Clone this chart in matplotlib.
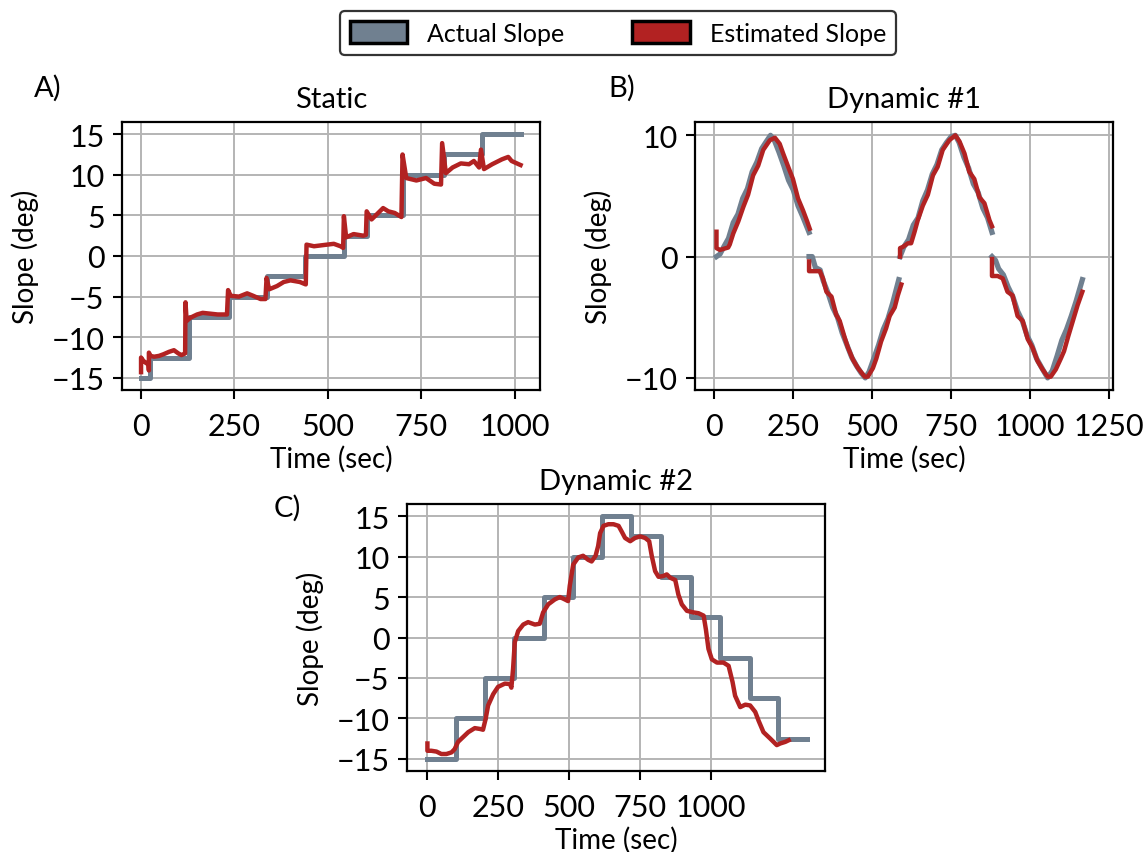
import numpy as np
import matplotlib
matplotlib.use("Agg")
import matplotlib.pyplot as plt
from matplotlib.patches import Patch

plt.rcParams['font.family'] = ['Lato', 'DejaVu Sans']

# colours
actual_color = '#708090'
est_color = '#B22222'
grid_color = '#b4b4b4'

# ---- A) Static ----
a_act_t = [0, 23, 128, 235, 338, 440, 542, 604, 701, 812, 913, 1017]
a_act_v = [-15, -12.5, -7.5, -5, -2.5, 0, 2.5, 5, 10, 12.5, 15, 15]
a_est_t = [0, 0, 6, 14, 20, 21, 21, 25, 35, 48, 60, 75, 88, 100, 108, 118, 119, 122,
           132, 150, 165, 185, 205, 230, 233, 240, 262, 284, 300, 320, 333, 336, 343,
           364, 382, 400, 425, 441, 443, 463, 489, 516, 534, 541, 543, 549, 569, 595,
           602, 604, 617, 626, 648, 662, 679, 697, 700, 710, 737, 763, 785, 803, 806,
           816, 834, 856, 878, 891, 905, 910, 918, 940, 966, 983, 992, 1011, 1016]
a_est_v = [-14.3, -12.5, -12.9, -13.2, -13.3, -14.1, -11.9, -12.3, -12.4, -12.3, -12.1,
           -11.8, -11.6, -12.0, -12.2, -12.0, -5.7, -8.0, -7.6, -7.2, -7.0, -7.1, -7.2,
           -7.2, -4.2, -4.9, -5.0, -4.6, -4.9, -5.3, -5.3, -2.7, -4.1, -3.7, -3.2, -3.0,
           -3.2, -3.5, 1.4, 1.2, 1.35, 1.5, 1.2, 1.0, 4.9, 2.3, 2.7, 2.5, 2.6, 5.5, 4.5,
           4.9, 5.9, 5.5, 5.3, 4.8, 12.5, 9.6, 9.3, 9.6, 8.9, 8.8, 13.9, 10.2, 10.9, 11.4,
           11.3, 11.7, 10.9, 13.1, 10.7, 11.3, 11.9, 12.2, 11.7, 11.3, 11.2]

# ---- B) Dynamic #1 (nan = gap between runs) ----
b_act_t = [7, 18, 30, 45, 60, 75, 90, 105, 120, 135, 150, 165, 178, 190, 205, 220, 235,
           250, 265, 280, 300, np.nan,
           300, 310, 320, 335, 345, 360, 375, 390, 405, 420, 435, 450, 465, 478, 490,
           505, 520, 535, 550, 565, 584, np.nan,
           588, 600, 615, 630, 645, 660, 675, 690, 705, 720, 735, 750, 763, 775, 790,
           805, 820, 835, 850, 865, 879, np.nan,
           879, 890, 900, 915, 930, 945, 960, 975, 990, 1005, 1020, 1035, 1055, 1070,
           1085, 1100, 1115, 1130, 1145, 1165]
b_act_v = [0, 0.2, 0.8, 1.5, 2.8, 3.5, 4.8, 5.6, 7.0, 7.8, 8.9, 9.5, 10.0, 9.6, 8.6, 7.5,
           6.3, 5.5, 4.2, 3.3, 2.0, np.nan,
           0, 0, -0.9, -1.1, -2.0, -3.0, -4.2, -5.0, -6.3, -7.3, -8.3, -9.0, -9.6, -10.0,
           -9.5, -8.4, -7.3, -6.0, -5.1, -3.8, -1.9, np.nan,
           0, 0.8, 1.4, 2.6, 3.2, 4.6, 5.5, 6.8, 7.6, 8.8, 9.4, 9.9, 10.0, 9.4, 8.2, 7.3,
           6.0, 5.3, 4.0, 3.2, 2.0, np.nan,
           0, -0.3, -1.0, -1.5, -2.5, -3.3, -4.5, -5.3, -6.5, -7.3, -8.4, -9.1, -10.0,
           -9.4, -8.2, -6.9, -6.0, -4.9, -3.7, -1.9]
b_est_t = [7, 7, 18, 44, 49, 60, 76, 92, 107, 123, 139, 155, 176, 192, 207, 218, 234,
           249, 265, 281, 294, 302, np.nan,
           300, 300, 318, 334, 344, 355, 371, 386, 397, 413, 423, 439, 455, 476, 486,
           502, 513, 528, 544, 555, 571, 581, 592, np.nan,
           588, 588, 597, 613, 623, 634, 644, 660, 676, 692, 707, 723, 744, 763, 776,
           792, 807, 823, 839, 855, 871, 879, np.nan,
           879, 879, 897, 913, 928, 944, 960, 976, 992, 1007, 1023, 1039, 1055, 1065,
           1081, 1097, 1107, 1120, 1135, 1150, 1165]
b_est_v = [2.05, 0.7, 0.55, 0.75, 1.0, 1.9, 2.9, 4.1, 5.1, 6.7, 7.5, 8.8, 9.6, 9.8, 9.3,
           8.5, 7.4, 6.4, 4.8, 3.8, 2.9, 2.3, np.nan,
           -0.4, -1.2, -1.2, -1.2, -1.8, -2.9, -3.3, -4.8, -5.3, -6.7, -7.5, -8.5, -9.2,
           -9.9, -9.9, -9.2, -8.4, -7.0, -5.9, -4.9, -4.2, -3.2, -2.3, np.nan,
           0.0, 0.7, 0.8, 1.1, 1.1, 2.05, 3.0, 4.2, 5.1, 6.7, 7.4, 8.8, 9.6, 10.0, 9.5,
           8.5, 7.0, 6.4, 4.9, 4.4, 3.0, 2.5, np.nan,
           -0.2, -1.6, -1.6, -1.8, -2.9, -3.2, -4.9, -5.3, -6.8, -7.5, -8.6, -9.3, -9.9,
           -9.9, -9.3, -8.4, -7.8, -6.6, -5.3, -4.0, -2.9]

# ---- C) Dynamic #2 ----
c_act_t = [0, 102, 202, 306, 411, 514, 617, 718, 824, 930, 1030, 1136, 1238, 1340]
c_act_v = [-15, -10, -5, 0, 5, 10, 15, 12.5, 7.5, 2.5, -2.5, -7.5, -12.5, -12.5]
c_est_t = [0, 0, 14, 32, 49, 67, 85, 96, 108, 126, 144, 167, 185, 196, 205, 214, 232,
           249, 273, 291, 296, 302, 308, 320, 338, 355, 379, 396, 408, 426, 449, 467,
           485, 496, 502, 514, 532, 549, 567, 579, 593, 602, 609, 621, 638, 656, 674,
           685, 697, 715, 732, 750, 768, 782, 791, 803, 815, 832, 844, 856, 874, 885,
           897, 915, 938, 956, 974, 982, 991, 1003, 1021, 1044, 1062, 1076, 1085, 1103,
           1121, 1138, 1156, 1168, 1185, 1209, 1232, 1244, 1262, 1274]
c_est_v = [-13.1, -14.0, -14.0, -14.1, -14.4, -14.4, -14.2, -13.8, -12.9, -12.3, -11.7,
           -11.2, -11.3, -11.4, -10.1, -8.4, -7.0, -6.1, -5.7, -5.75, -6.2, -3.9, -0.6,
           0.8, 1.6, 1.9, 1.6, 1.7, 3.1, 4.1, 4.7, 5.0, 4.7, 4.5, 6.4, 9.0, 9.9, 10.1,
           9.6, 9.4, 10.1, 11.3, 12.9, 13.8, 14.0, 14.0, 13.8, 13.1, 12.3, 11.9, 12.3,
           12.5, 12.3, 11.9, 10.1, 8.2, 7.5, 7.6, 7.8, 7.4, 7.1, 5.3, 4.1, 3.3, 3.1, 3.0,
           2.7, 1.0, -1.4, -2.7, -3.1, -3.1, -3.5, -5.5, -7.2, -8.6, -8.3, -8.4, -9.2,
           -10.3, -11.7, -12.5, -13.3, -13.1, -12.9, -12.7]

slope_ticks = [-15, -10, -5, 0, 5, 10, 15]

W, H = 1146, 853
fig = plt.figure(figsize=(W / 100, H / 100), dpi=100, facecolor='white')


def add_ax(left, top, right, bottom):
    return fig.add_axes([left / W, 1 - bottom / H, (right - left) / W, (bottom - top) / H])


def style(ax, title, xticks, yticks, xlim, ylim):
    ax.set_axisbelow(True)
    ax.grid(True, color=grid_color, linewidth=1.4)
    ax.set_xticks(xticks)
    ax.set_yticks(yticks)
    ax.set_xlim(*xlim)
    ax.set_ylim(*ylim)
    ax.set_title(title, fontsize=21, pad=11)
    ax.set_xlabel('Time (sec)', fontsize=20, labelpad=4)
    ax.set_ylabel('Slope (deg)', fontsize=20, labelpad=9)
    ax.tick_params(labelsize=22, length=6.5, width=1.5)
    ax.tick_params(axis='x', pad=9)
    ax.tick_params(axis='y', pad=6)
    for sp in ax.spines.values():
        sp.set_linewidth(1.6)
        sp.set_color('black')


ax_a = add_ax(122, 123, 540, 391)
ax_b = add_ax(695, 123, 1113, 391)
ax_c = add_ax(407, 505, 825, 772)

ax_a.plot(a_act_t, a_act_v, drawstyle='steps-post', color=actual_color, lw=3.6)
ax_a.plot(a_est_t, a_est_v, color=est_color, lw=3.2)
style(ax_a, 'Static', [0, 250, 500, 750, 1000], slope_ticks, (-51, 1068), (-16.5, 16.5))

ax_b.plot(b_act_t, b_act_v, color=actual_color, lw=3.8)
ax_b.plot(b_est_t, b_est_v, color=est_color, lw=3.2)
style(ax_b, 'Dynamic #1', [0, 250, 500, 750, 1000, 1250], [-10, 0, 10], (-61, 1262), (-11, 11.1))

ax_c.plot(c_act_t, c_act_v, drawstyle='steps-post', color=actual_color, lw=3.6)
ax_c.plot(c_est_t, c_est_v, color=est_color, lw=3.2)
style(ax_c, 'Dynamic #2', [0, 250, 500, 750, 1000], slope_ticks, (-72, 1402), (-16.5, 16.5))

fig.text(48 / W, 1 - 88 / H, 'A)', fontsize=21, ha='center', va='center')
fig.text(622 / W, 1 - 88 / H, 'B)', fontsize=21, ha='center', va='center')
fig.text(287 / W, 1 - 508 / H, 'C)', fontsize=21, ha='center', va='center')

handles = [Patch(facecolor=actual_color, edgecolor='black', linewidth=2.5, label='Actual Slope'),
           Patch(facecolor=est_color, edgecolor='black', linewidth=2.5, label='Estimated Slope')]
leg = fig.legend(handles=handles, loc='upper center', bbox_to_anchor=(618 / W, 1 - 12 / H),
                 borderaxespad=0, ncol=2, fontsize=18, frameon=True, fancybox=True,
                 handlelength=2.3, handleheight=1.0, columnspacing=2.7, handletextpad=0.8,
                 borderpad=0.4)
leg.get_frame().set_edgecolor('#333333')
leg.get_frame().set_linewidth(1.6)
leg.get_frame().set_alpha(1)

fig.savefig('out.png', dpi=100, facecolor='white')
